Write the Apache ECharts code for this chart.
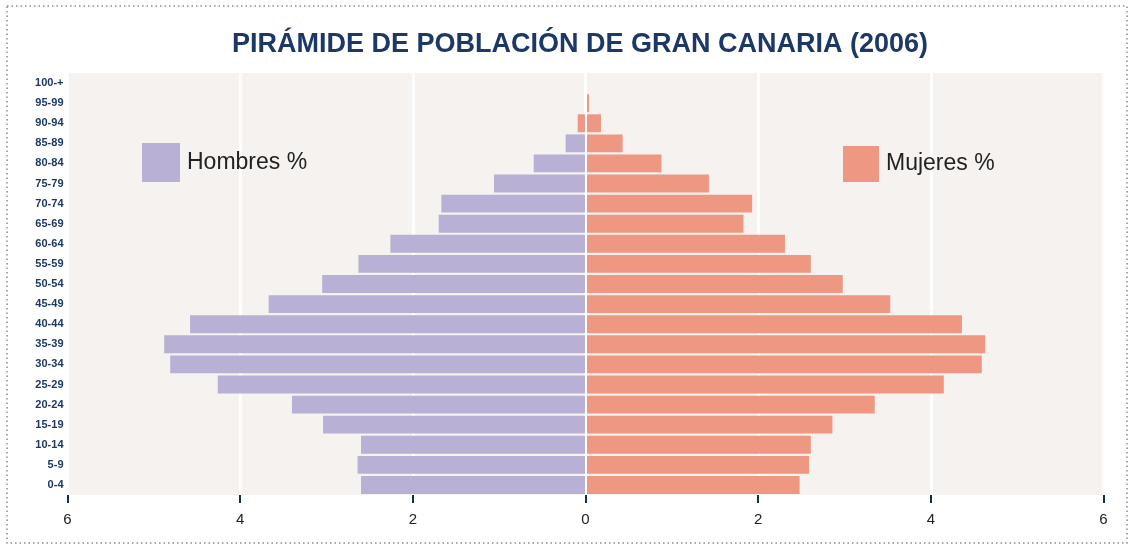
<!DOCTYPE html>
<html>
<head>
<meta charset="utf-8">
<title>Pirámide de población de Gran Canaria (2006)</title>
<script src="https://cdn.jsdelivr.net/npm/echarts@6/dist/echarts.min.js"></script>
<style>
  html, body { margin: 0; padding: 0; background: #ffffff; }
  #chart { width: 1131px; height: 545px; }
</style>
</head>
<body>
<div id="chart"></div>
<script>
// Grupos de edad, de abajo (0-4) hacia arriba (100-+)
const edades = ['0-4', '5-9', '10-14', '15-19', '20-24', '25-29', '30-34', '35-39',
  '40-44', '45-49', '50-54', '55-59', '60-64', '65-69', '70-74', '75-79',
  '80-84', '85-89', '90-94', '95-99', '100-+'];

// Porcentaje de la población total por sexo
const hombres = [2.60, 2.64, 2.60, 3.04, 3.40, 4.26, 4.81, 4.88, 4.58, 3.67, 3.05,
  2.63, 2.26, 1.70, 1.67, 1.06, 0.60, 0.23, 0.09, 0, 0];
const mujeres = [2.48, 2.59, 2.61, 2.86, 3.35, 4.15, 4.59, 4.63, 4.36, 3.53, 2.98,
  2.61, 2.31, 1.83, 1.93, 1.43, 0.88, 0.43, 0.18, 0.04, 0];

const colorHombres = '#b8b0d5';
const colorMujeres = '#ee9782';
const azul = '#1c3866';

const chart = echarts.init(document.getElementById('chart'), null, { renderer: 'canvas' });

// Los hombres van a la izquierda (valores negativos); la barra 90-94 va en salmón
const datosHombres = hombres.map(function (v, i) {
  const item = { value: -v };
  if (edades[i] === '90-94') item.itemStyle = { color: colorMujeres };
  return item;
});

chart.setOption({
  animation: false,
  backgroundColor: '#ffffff',
  title: {
    text: 'PIRÁMIDE DE POBLACIÓN DE GRAN CANARIA (2006)',
    left: 580,
    textAlign: 'center',
    top: 31,
    padding: 0,
    textStyle: {
      fontFamily: 'Liberation Sans',
      fontWeight: 'bold',
      fontSize: 27,
      color: azul
    }
  },
  legend: [
    {
      data: ['Hombres %'],
      left: 142,
      top: 143,
      padding: 0,
      itemWidth: 38,
      itemHeight: 39,
      icon: 'rect',
      selectedMode: false,
      textStyle: { fontFamily: 'Liberation Sans', fontSize: 23, color: '#222222', padding: [0, 0, 0, 2] }
    },
    {
      data: ['Mujeres %'],
      left: 843,
      top: 146,
      padding: 0,
      itemWidth: 36,
      itemHeight: 36,
      icon: 'rect',
      selectedMode: false,
      textStyle: { fontFamily: 'Liberation Sans', fontSize: 23, color: '#222222', padding: [0, 0, 0, 2] }
    }
  ],
  grid: {
    left: 67.5,
    right: 27.5,
    top: 73,
    bottom: 50,
    show: true,
    backgroundColor: '#f5f2f0',
    borderWidth: 0
  },
  xAxis: {
    type: 'value',
    min: -6,
    max: 6,
    interval: 2,
    axisLine: { show: false },
    axisTick: { show: true, length: 8, lineStyle: { color: '#1a2c4e', width: 2 } },
    axisLabel: {
      margin: 17,
      fontFamily: 'Liberation Sans',
      fontSize: 15,
      color: '#222222',
      formatter: function (v) { return Math.abs(v); }
    },
    splitLine: { show: true, lineStyle: { color: '#ffffff', width: 3 } }
  },
  yAxis: {
    type: 'category',
    data: edades,
    axisLine: { show: false },
    axisTick: { show: false },
    axisLabel: {
      margin: 4,
      fontFamily: 'Liberation Sans',
      fontWeight: 'bold',
      fontSize: 11,
      color: azul
    }
  },
  series: [
    {
      name: 'Hombres %',
      type: 'bar',
      stack: 'piramide',
      barCategoryGap: '11%',
      itemStyle: { color: colorHombres },
      data: datosHombres
    },
    {
      name: 'Mujeres %',
      type: 'bar',
      stack: 'piramide',
      barCategoryGap: '11%',
      itemStyle: { color: colorMujeres },
      data: mujeres,
      markLine: {
        silent: true,
        symbol: 'none',
        label: { show: false },
        lineStyle: { color: '#ffffff', width: 2, type: 'solid' },
        data: [{ xAxis: 0 }]
      }
    }
  ],
  graphic: [
    {
      type: 'rect',
      silent: true,
      shape: { x: 7, y: 6, width: 1120, height: 537 },
      style: { fill: 'none', stroke: '#8c8c8c', lineWidth: 1.5, lineDash: [1.5, 3] }
    }
  ]
});
</script>
</body>
</html>
